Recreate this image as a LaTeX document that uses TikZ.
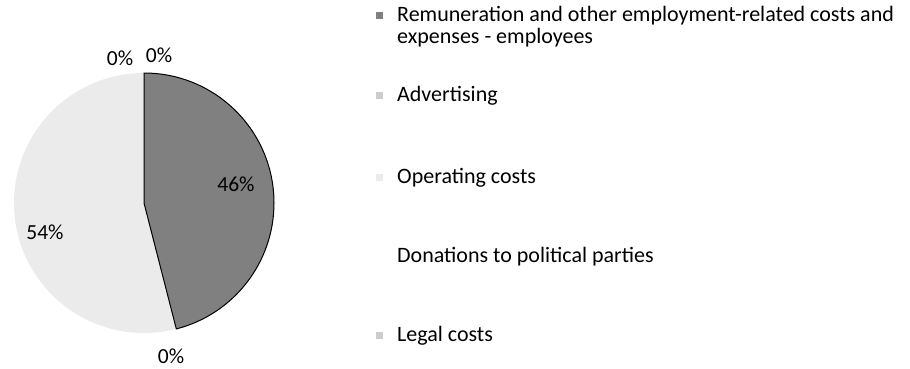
\documentclass[tikz,border=0pt]{standalone}
\usepackage{fontspec}
\setmainfont{Carlito}
\usetikzlibrary{positioning}

\begin{document}
\begin{tikzpicture}[
    x=1pt, y=-1pt,
    remunfill/.style={fill=black!50},
    operfill/.style={fill=black!8},
    slice/.style={draw=black, line width=1pt},
    pct/.style={inner sep=0pt, font=\fontsize{21.5}{24}\selectfont},
    entry/.style={anchor=base west, align=left, inner sep=0pt, font=\fontsize{22}{22}\selectfont},
    marker/.style={minimum size=7pt, inner sep=0pt, draw=none},
]
    \useasboundingbox (0,0) rectangle (910,368);
    \coordinate (centre) at (144,203);

    % Slices
    \fill[operfill] (centre) -- (176.3,328.9) arc[start angle=75.6, end angle=270, radius=130] -- cycle;
    \draw[slice, remunfill] (centre) -- (144,73) arc[start angle=-90, end angle=75.6, radius=130] -- cycle;

    % Labels
    \node[pct] (premun) at (236,184) {46\%};
    \node[pct] (padvert) at (171,356) {0\%};
    \node[pct] (poper) at (45,232) {54\%};
    \node[pct] (pdonat) at (120,58) {0\%};
    \node[pct] (plegal) at (159,55) {0\%};

    % Legend
    \node[entry] (remun) at (397,43) {Remuneration and other employment-related costs and\\expenses - employees};
    \node[entry] (advert) at (397,101) {Advertising};
    \node[entry] (oper) at (397,183) {Operating costs};
    \node[entry] (donat) at (397,262) {Donations to political parties};
    \node[entry] (legal) at (397,341) {Legal costs};

    \node[marker, remunfill] (mremun) at (379,15) {};
    \node[marker, fill=black!20] (madvert) at (379,95) {};
    \node[marker, operfill] (moper) at (379,177) {};
    \node[marker, fill=black!20] (mlegal) at (379,335) {};
\end{tikzpicture}
\end{document}
